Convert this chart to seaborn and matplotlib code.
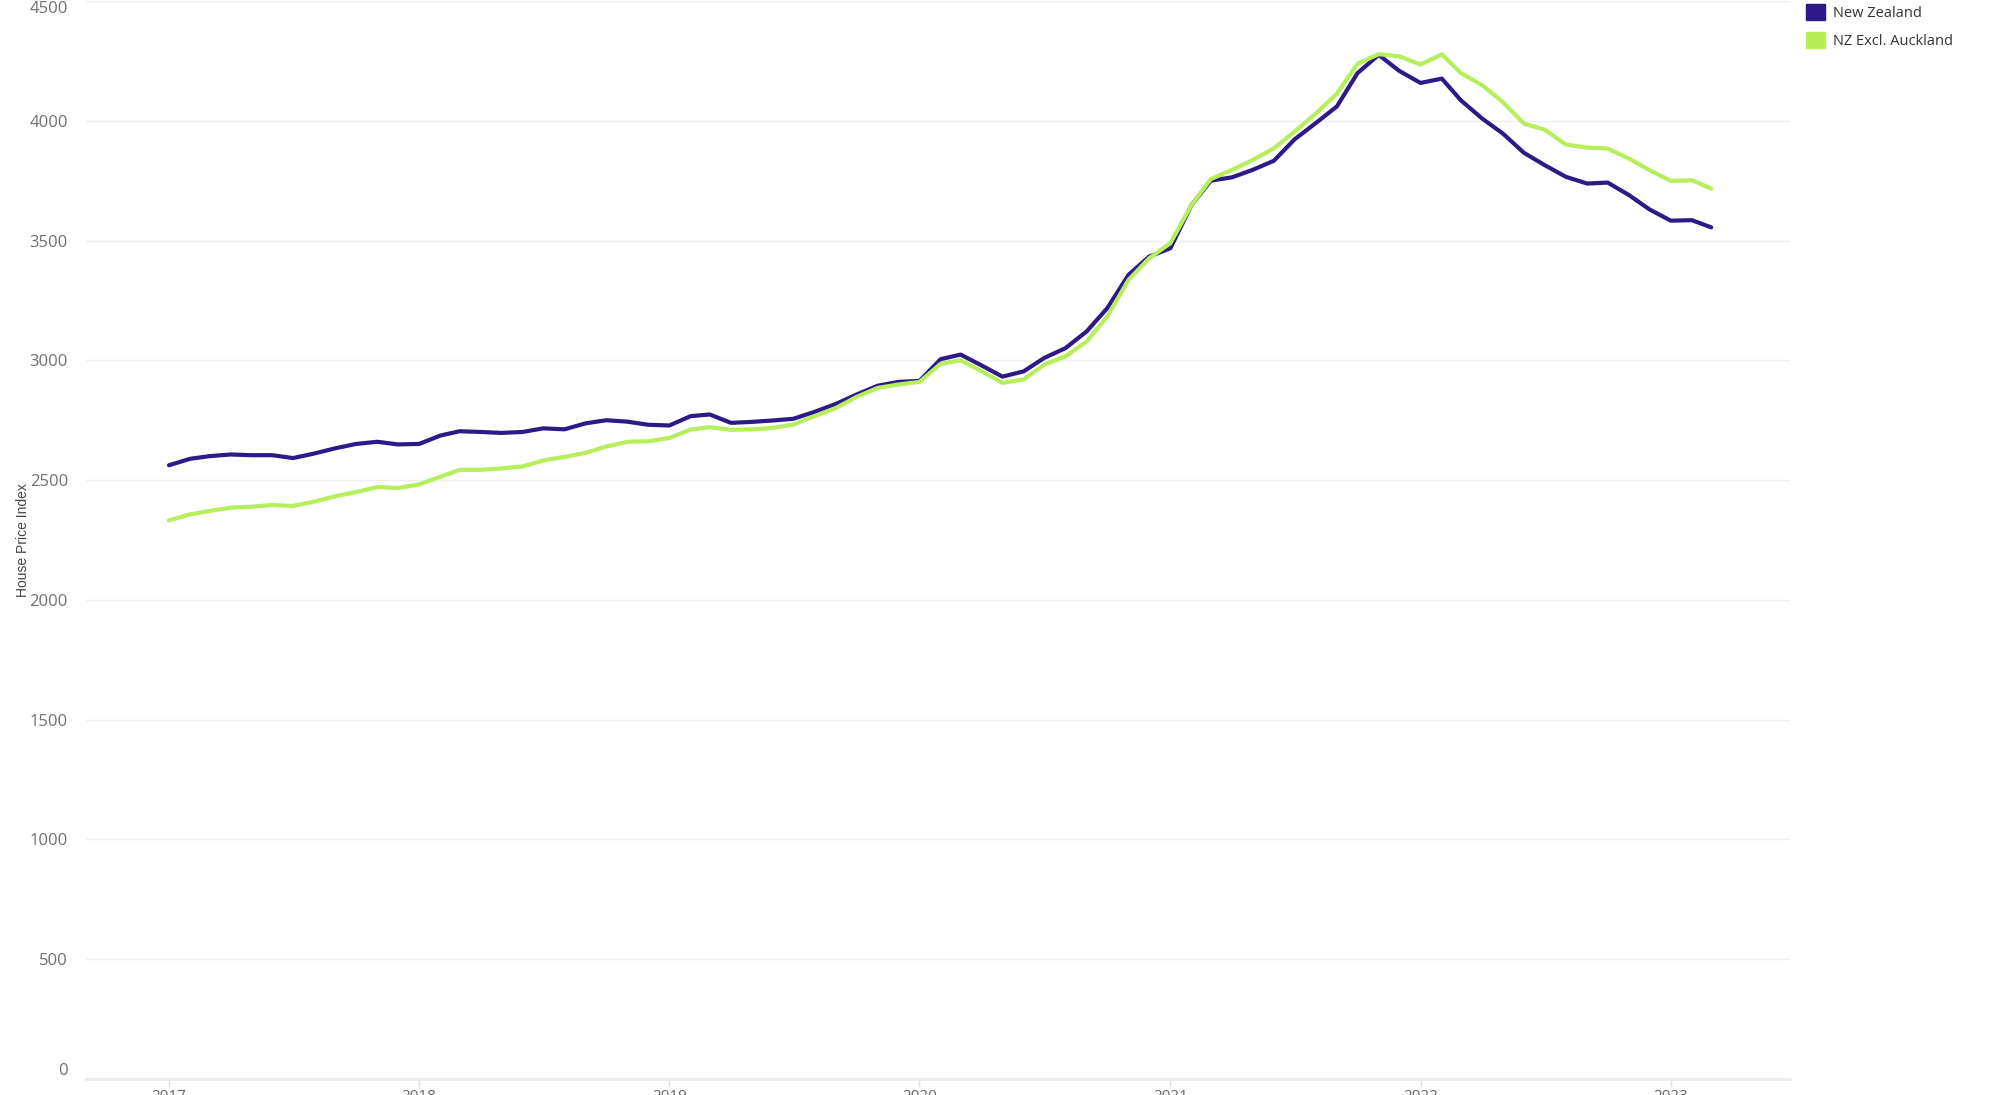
import matplotlib
matplotlib.use("Agg")
import matplotlib.pyplot as plt
import matplotlib.dates as mdates
from matplotlib.patches import Patch
import numpy as np
import pandas as pd
import seaborn as sns

# ---- data ----
start_month = "2017-01-01"
n_months = 75
series_names = ["New Zealand", "NZ Excl. Auckland"]
nz_values = [2562, 2589, 2600, 2607, 2604, 2604, 2592, 2611, 2633, 2651, 2660, 2649,
             2651, 2686, 2704, 2701, 2697, 2701, 2716, 2712, 2737, 2750, 2744, 2731,
             2728, 2767, 2774, 2739, 2743, 2749, 2756, 2785, 2818, 2857, 2894, 2910,
             2914, 3005, 3024, 2978, 2932, 2954, 3010, 3051, 3121, 3218, 3357, 3433,
             3468, 3649, 3750, 3764, 3795, 3833, 3922, 3990, 4060, 4199, 4275, 4208,
             4158, 4176, 4085, 4009, 3947, 3866, 3815, 3766, 3738, 3742, 3690, 3630,
             3583, 3585, 3555]
excl_values = [2332, 2357, 2371, 2385, 2389, 2396, 2392, 2410, 2433, 2450, 2471, 2467,
               2482, 2514, 2543, 2543, 2549, 2557, 2582, 2597, 2614, 2640, 2660, 2662,
               2676, 2711, 2721, 2710, 2712, 2718, 2732, 2767, 2801, 2847, 2885, 2899,
               2910, 2986, 3000, 2954, 2906, 2920, 2982, 3017, 3079, 3183, 3336, 3426,
               3489, 3649, 3757, 3795, 3836, 3885, 3954, 4030, 4113, 4238, 4278, 4269,
               4235, 4277, 4199, 4148, 4078, 3988, 3963, 3901, 3888, 3884, 3842, 3794,
               3749, 3752, 3717]
y_ticks = [0, 500, 1000, 1500, 2000, 2500, 3000, 3500, 4000, 4500]
colors = ["#2d1a88", "#b6ee5c"]

dates = pd.date_range(start_month, periods=n_months, freq="MS")
df = pd.DataFrame({
    "date": list(dates) * 2,
    "value": nz_values + excl_values,
    "series": [series_names[0]] * n_months + [series_names[1]] * n_months,
})

sns.set_theme(style="white")
plt.rcParams["font.family"] = ["Open Sans", "DejaVu Sans"]

fig = plt.figure(figsize=(19.98, 10.95), dpi=100)
ax = fig.add_axes([86 / 1998, 16 / 1095, (1790 - 86) / 1998, (1094 - 16) / 1095])

sns.lineplot(data=df, x="date", y="value", hue="series", palette=colors,
             hue_order=series_names, linewidth=3.0, ax=ax, legend=False)

ax.set_ylim(0, 4500)
ax.set_xlim(pd.Timestamp("2016-09-02"), pd.Timestamp("2023-06-24"))
ax.set_yticks(y_ticks)
ax.set_yticklabels([str(t) for t in y_ticks])
ax.yaxis.grid(True, color="#efefef", linewidth=1.0)
ax.xaxis.grid(False)
for s in ["left", "right", "top"]:
    ax.spines[s].set_visible(False)
ax.spines["bottom"].set_color("#ececec")
ax.spines["bottom"].set_linewidth(2.0)

ax.xaxis.set_major_locator(mdates.YearLocator())
ax.xaxis.set_major_formatter(mdates.DateFormatter("%Y"))
ax.tick_params(axis="x", which="major", bottom=True, length=6, width=1, color="#e0e0e0",
               labelsize=11, labelcolor="#666666", pad=1)
ax.tick_params(axis="y", left=False, labelsize=12, labelcolor="#707070", pad=7)

for lab in ax.get_yticklabels():
    if lab.get_text() == "4500":
        lab.set_va("top")
    elif lab.get_text() == "0":
        lab.set_va("bottom")

ax.set_xlabel("")
ax.set_ylabel("House Price Index", fontsize=10, color="#444444",
              family=["Liberation Sans Narrow", "Liberation Sans", "DejaVu Sans"])
ax.yaxis.set_label_coords(-0.033, 0.5)

handles = [Patch(facecolor=c, edgecolor=c) for c in colors]
fig.legend(handles, series_names, loc="upper left", bbox_to_anchor=(1806 / 1998, 0.996),
           frameon=False, fontsize=10.5, labelcolor="#333333", handlelength=1.3,
           handleheight=1.3, handletextpad=0.55, labelspacing=0.75, borderaxespad=0,
           borderpad=0)

fig.savefig("out.png", dpi=100)
